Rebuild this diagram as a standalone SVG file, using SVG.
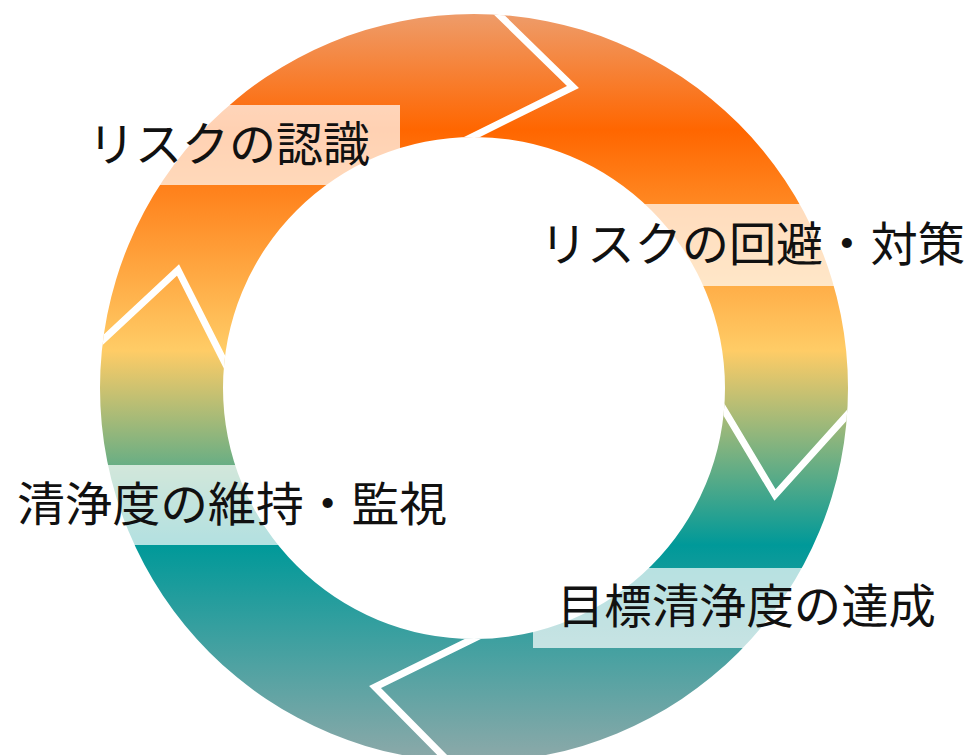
<svg xmlns="http://www.w3.org/2000/svg" width="969" height="755" viewBox="0 0 969 755">
<style>
.lbl{fill:#ffffff;fill-opacity:0.7}
.txt{font-family:"Noto Sans CJK JP","Noto Sans CJK SC",sans-serif;font-size:47px;fill:#111111}
.chev{fill:none;stroke:#ffffff;stroke-width:7;stroke-linejoin:miter;stroke-miterlimit:10}
</style>
<defs>
<linearGradient id="g" gradientUnits="userSpaceOnUse" x1="0" y1="14" x2="0" y2="762">
<stop offset="0" stop-color="#ee9c6a"/>
<stop offset="0.155" stop-color="#ff6600"/>
<stop offset="0.45" stop-color="#ffcc66"/>
<stop offset="0.71" stop-color="#009999"/>
<stop offset="1" stop-color="#8ea9a9"/>
</linearGradient>
<clipPath id="ringClip">
<path clip-rule="evenodd" d="M100,388 A374,374 0 1 1 848,388 A374,374 0 1 1 100,388 Z M223,388 A251,251 0 1 0 725,388 A251,251 0 1 0 223,388 Z"/>
</clipPath>
</defs>
<rect width="969" height="755" fill="#ffffff"/>
<g id="ring">
<path fill="url(#g)" fill-rule="evenodd" d="M100,388 A374,374 0 1 1 848,388 A374,374 0 1 1 100,388 Z M223,388 A251,251 0 1 0 725,388 A251,251 0 1 0 223,388 Z"/>
</g>
<g id="connectors" clip-path="url(#ringClip)">
<polyline class="chev" points="488,4 573,87 462,142"/>
<polyline class="chev" points="717,398 775,495 857,404"/>
<polyline class="chev" points="487,632 375,687 455,768"/>
<polyline class="chev" points="90,352 178,270 227,367"/>
</g>
<g id="node-recognize">
<rect class="lbl" x="80" y="105" width="320" height="80"/>
<text class="txt" x="88" y="161" textLength="282" lengthAdjust="spacingAndGlyphs">リスクの認識</text>
</g>
<g id="node-avoid">
<rect class="lbl" x="530" y="204" width="435" height="82"/>
<text class="txt" x="540" y="261" textLength="425" lengthAdjust="spacingAndGlyphs">リスクの回避・対策</text>
</g>
<g id="node-achieve">
<rect class="lbl" x="533" y="568" width="412" height="80"/>
<text class="txt" x="557" y="623" textLength="379" lengthAdjust="spacingAndGlyphs">目標清浄度の達成</text>
</g>
<g id="node-maintain">
<rect class="lbl" x="10" y="465" width="445" height="80"/>
<text class="txt" x="17" y="521" textLength="430" lengthAdjust="spacingAndGlyphs">清浄度の維持・監視</text>
</g>
</svg>
